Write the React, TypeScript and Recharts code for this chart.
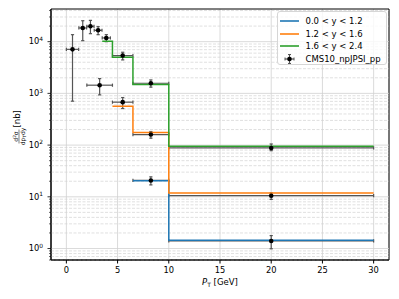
import React from 'react';
import { ComposedChart, Line, Scatter, ErrorBar, XAxis, YAxis, CartesianGrid, ReferenceLine, ReferenceArea } from 'recharts';

const FONT = '"DejaVu Sans", sans-serif';

// step histograms: left bin edges + contents (last point closes the step at 30)
const lowEdges = [6.5, 10, 30];
const lowVals = [20.4, 1.45, 1.45];
const midEdges = [4.5, 6.5, 10, 30];
const midVals = [565, 175, 11.9, 11.9];
const fwdEdges = [3.5, 4.5, 6.5, 10, 30];
const fwdVals = [10200, 5000, 1480, 95, 95];

// CMS10 measurement points
const ptCenters = [0.6, 1.6, 2.35, 3.1, 3.9, 3.25, 5.5, 5.5, 8.25, 8.25, 8.25, 20, 20, 20];
const ptHalfWidths = [0.6, 0.38, 0.35, 0.38, 0.4, 1.25, 1, 1, 1.75, 1.75, 1.75, 10, 10, 10];
const xsecVals = [7100, 18400, 19800, 16600, 11800, 1440, 5370, 676, 1570, 160, 20.7, 88, 10.5, 1.4];
const xsecLow = [707, 10460, 14270, 13650, 10000, 935, 4440, 509, 1320, 136, 17, 78, 8.9, 0.99];
const xsecHigh = [13650, 25400, 25800, 19500, 13650, 1930, 6240, 830, 1820, 183, 24.3, 105, 11.9, 1.78];

const xTicks = [0, 5, 10, 15, 20, 25, 30];
const yMajor = [1, 10, 100, 1000, 10000];
const X_DOMAIN = [-1.5, 31.5];
const Y_DOMAIN = [0.6, 42800];

const yMinor: number[] = [];
for (let k = -1; k <= 4; k++) {
  for (let m = 2; m <= 9; m++) {
    const v = m * Math.pow(10, k);
    if (v > Y_DOMAIN[0] && v < Y_DOMAIN[1]) yMinor.push(+v.toPrecision(3));
  }
}

const legendItems = [
  { name: '0.0 < y < 1.2', color: '#1f77b4' },
  { name: '1.2 < y < 1.6', color: '#ff7f0e' },
  { name: '1.6 < y < 2.4', color: '#2ca02c' },
];

const toSteps = (edges: number[], vals: number[]) => edges.map((x, i) => ({ x, y: vals[i] }));

const points = ptCenters.map((x, i) => ({
  x,
  y: xsecVals[i],
  ex: ptHalfWidths[i],
  ey: [xsecVals[i] - xsecLow[i], xsecHigh[i] - xsecVals[i]],
}));

const LogTick = (props: any) => {
  const { x, y, payload } = props;
  const exp = Math.log10(payload.value);
  const major = Math.abs(exp - Math.round(exp)) < 1e-6;
  return (
    <g>
      <line x1={x - (major ? 3.5 : 2)} x2={x} y1={y} y2={y} stroke="#000" strokeWidth={major ? 0.8 : 0.6} />
      {major && (
        <text x={x - 8} y={y + 2.8} textAnchor="end" fontSize={8.3} fontFamily={FONT} fill="#000">
          10<tspan dy={-3.4} fontSize={5.9}>{Math.round(exp)}</tspan>
        </text>
      )}
    </g>
  );
};

const XTitle = () => (
  <text x={220} y={285} textAnchor="middle" fontSize={8.5} fontFamily={FONT} fill="#000" style={{ whiteSpace: 'pre' }}>
    <tspan fontStyle="italic">P</tspan>
    <tspan fontSize={6} dy={1.8}>T</tspan>
    <tspan dy={-1.8}> [GeV]</tspan>
  </text>
);

const YTitle = () => (
  <g transform="translate(19,130) rotate(-90)" fontFamily={FONT} fill="#000">
    <text x={-6.5} y={-1.3} fontSize={6} textAnchor="middle">
      d<tspan dy={-2} fontSize={4.3}>2</tspan><tspan dy={2}>σ</tspan>
    </text>
    <line x1={-13.5} x2={0.5} y1={0} y2={0} stroke="#000" strokeWidth={0.5} />
    <text x={-6.5} y={5.6} fontSize={6} textAnchor="middle" style={{ whiteSpace: 'pre' }}>
      dp<tspan dy={1.3} fontSize={4.3}>T</tspan><tspan dy={-1.3}>dy</tspan>
    </text>
    <text x={2.5} y={1.2} fontSize={8.5}>[nb]</text>
  </g>
);

const Dot = (props: any) => <circle cx={props.cx} cy={props.cy} r={2.3} fill="#000" />;

const rowStyle: React.CSSProperties = { height: 12.7, display: 'flex', alignItems: 'center' };

const ChartLegend = () => (
  <div
    style={{
      position: 'absolute',
      left: 277,
      top: 11,
      width: 110,
      height: 54,
      boxSizing: 'border-box',
      border: '1px solid #d6d6d6',
      borderRadius: 3,
      background: 'rgba(255,255,255,0.8)',
      fontFamily: FONT,
      fontSize: 8.5,
      color: '#000',
      paddingTop: 2.5,
    }}
  >
    {legendItems.map((it) => (
      <div key={it.name} style={rowStyle}>
        <svg width={19} height={12} style={{ marginLeft: 2 }}>
          <line x1={0} x2={19} y1={6} y2={6} stroke={it.color} strokeWidth={1.6} />
        </svg>
        <span style={{ marginLeft: 6.5, whiteSpace: 'pre' }}>{it.name}</span>
      </div>
    ))}
    <div style={rowStyle}>
      <svg width={19} height={12} style={{ marginLeft: 2 }}>
        <line x1={5} x2={14} y1={6} y2={6} stroke="#555" strokeWidth={1.2} />
        <line x1={5} x2={5} y1={4.5} y2={7.5} stroke="#555" strokeWidth={1} />
        <line x1={14} x2={14} y1={4.5} y2={7.5} stroke="#555" strokeWidth={1} />
        <line x1={9.5} x2={9.5} y1={1.5} y2={10.5} stroke="#555" strokeWidth={1.2} />
        <line x1={8} x2={11} y1={1.5} y2={1.5} stroke="#555" strokeWidth={1} />
        <line x1={8} x2={11} y1={10.5} y2={10.5} stroke="#555" strokeWidth={1} />
        <circle cx={9.5} cy={6} r={2.3} fill="#000" />
      </svg>
      <span style={{ marginLeft: 6.5 }}>CMS10_npJPSI_pp</span>
    </div>
  </div>
);

export default function App() {
  return (
    <div style={{ position: 'absolute', left: 0, top: 0, width: 399, height: 299, background: '#fff' }}>
      <ComposedChart width={399} height={299} margin={{ top: 9, right: 10, bottom: 9, left: 0 }}>
        <CartesianGrid horizontal={false} stroke="#d0d0d0" strokeWidth={0.8} />
        {yMinor.map((v) => (
          <ReferenceLine key={'mn' + v} y={v} stroke="#d2d2d2" strokeWidth={0.7} strokeDasharray="3 1.5" />
        ))}
        {yMajor.map((v) => (
          <ReferenceLine key={'mj' + v} y={v} stroke="#d0d0d0" strokeWidth={0.8} />
        ))}
        <XAxis
          dataKey="x"
          type="number"
          domain={X_DOMAIN}
          ticks={xTicks}
          interval={0}
          allowDataOverflow
          height={30}
          tickSize={3.5}
          tickMargin={4}
          axisLine={{ stroke: '#000' }}
          tickLine={{ stroke: '#000' }}
          tick={{ fontSize: 8.3, fill: '#000', fontFamily: FONT }}
          label={<XTitle />}
        />
        <YAxis
          type="number"
          scale="log"
          domain={Y_DOMAIN}
          ticks={[...yMajor, ...yMinor]}
          interval={0}
          allowDataOverflow
          width={51}
          tickSize={0}
          tickMargin={0}
          tickLine={false}
          axisLine={{ stroke: '#000' }}
          tick={<LogTick />}
          label={<YTitle />}
        />
        <Scatter data={points} dataKey="y" shape={<Dot />} isAnimationActive={false}>
          <ErrorBar dataKey="ex" direction="x" width={1.6} stroke="#555" strokeWidth={1.2} isAnimationActive={false} />
          <ErrorBar dataKey="ey" direction="y" width={1.6} stroke="#555" strokeWidth={1.2} isAnimationActive={false} />
        </Scatter>
        <Line data={toSteps(lowEdges, lowVals)} dataKey="y" type="stepAfter" stroke="#1f77b4" strokeWidth={1.5} dot={false} isAnimationActive={false} />
        <Line data={toSteps(midEdges, midVals)} dataKey="y" type="stepAfter" stroke="#ff7f0e" strokeWidth={1.5} dot={false} isAnimationActive={false} />
        <Line data={toSteps(fwdEdges, fwdVals)} dataKey="y" type="stepAfter" stroke="#2ca02c" strokeWidth={1.5} dot={false} isAnimationActive={false} />
        <ReferenceArea x1={X_DOMAIN[0]} x2={X_DOMAIN[1]} y1={Y_DOMAIN[0]} y2={Y_DOMAIN[1]} fill="none" stroke="#000" strokeWidth={1} ifOverflow="visible" />
      </ComposedChart>
      <ChartLegend />
    </div>
  );
}
